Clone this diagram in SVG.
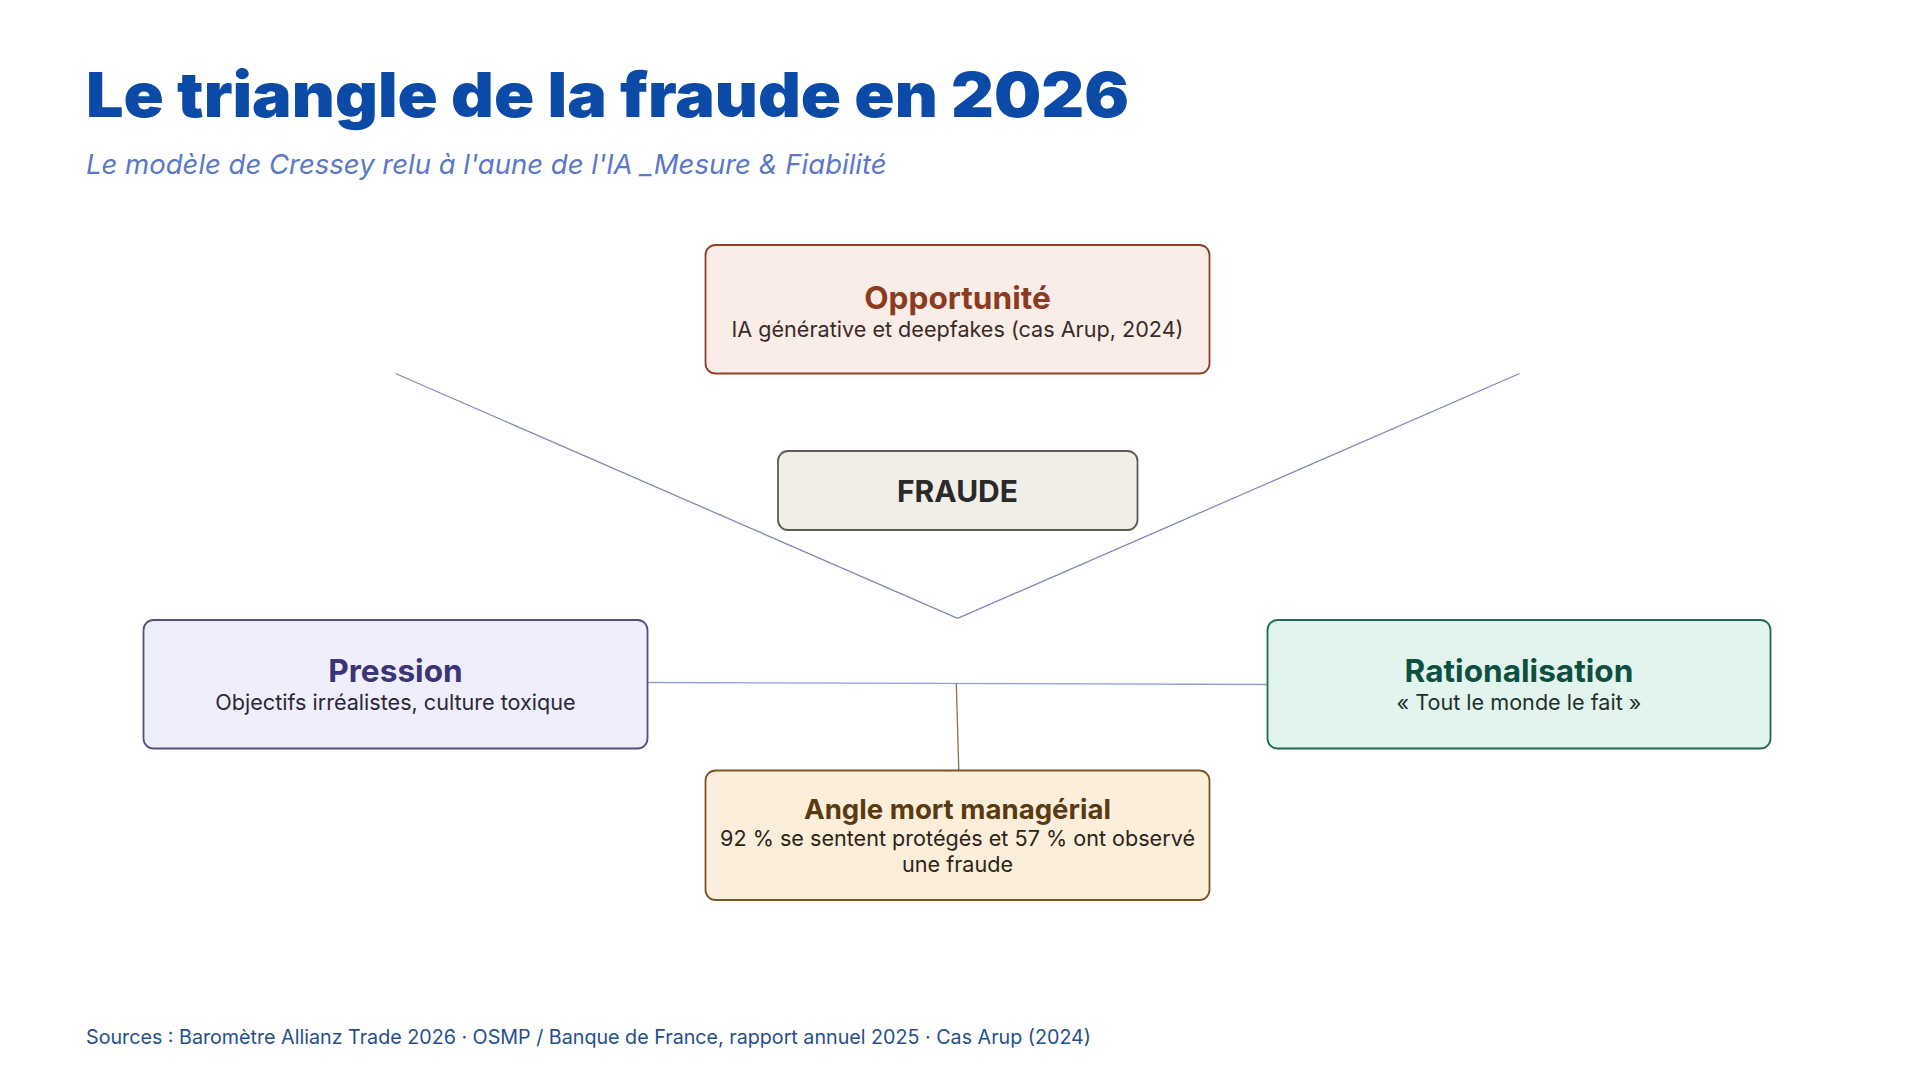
<svg xmlns="http://www.w3.org/2000/svg" width="1920" height="1080" viewBox="0 0 1920 1080">
<style>
.bg{fill:#ffffff}
.title{font-family:Inter,"Liberation Sans",sans-serif;font-weight:900;font-size:62px;fill:#0b4aa6}
.subtitle{font-family:Inter,"Liberation Sans",sans-serif;font-style:italic;font-size:27.5px;fill:#5a78c8}
.src{font-family:Inter,"Liberation Sans",sans-serif;font-size:19.7px;fill:#1f4f8c}
.box{stroke-width:1.8}
.nt{font-family:Inter,"Liberation Sans",sans-serif;font-weight:700;font-size:31.6px;text-anchor:middle}
.ns{font-family:Inter,"Liberation Sans",sans-serif;font-size:21.6px;text-anchor:middle}
.conn line{fill:none;stroke-width:1.3}
</style>
<rect class="bg" x="0" y="0" width="1920" height="1080"/>
<text class="title" x="86" y="117" textLength="1043" lengthAdjust="spacingAndGlyphs">Le triangle de la fraude en 2026</text>
<text class="subtitle" x="86" y="174">Le modèle de Cressey relu à l'aune de l'IA _Mesure &amp; Fiabilité</text>

<g id="connectors" class="conn">
<line x1="395.5" y1="373.5" x2="957.6" y2="618.4" stroke="#7d8db2"/>
<line x1="957.6" y1="618.4" x2="1519.6" y2="373.5" stroke="#7d8db2"/>
<line x1="647.8" y1="682.5" x2="1267.4" y2="684.5" stroke="#8ea2c8"/>
<line x1="956.3" y1="683.5" x2="958.8" y2="770.5" stroke="#8a7254"/>
</g>

<g id="node-opportunite">
<rect class="box" x="705.5" y="245" width="504" height="128.5" rx="10" fill="#faece6" stroke="#8c4025"/>
<text class="nt" x="957.5" y="309" fill="#8b3b1f">Opportunité</text>
<text class="ns" x="957.5" y="337" fill="#3a2a26">IA générative et deepfakes (cas Arup, 2024)</text>
</g>

<g id="node-fraude">
<rect class="box" x="778" y="451" width="359.5" height="79" rx="10" fill="#f1eee8" stroke="#5e5b56"/>
<text class="nt" x="957.5" y="502" fill="#2a2a2a" style="font-size:30px">FRAUDE</text>
</g>

<g id="node-pression">
<rect class="box" x="143.5" y="620" width="504" height="128.5" rx="10" fill="#efeefc" stroke="#54507e"/>
<text class="nt" x="395.5" y="682" fill="#3b3479">Pression</text>
<text class="ns" x="395.5" y="710" fill="#2a2838">Objectifs irréalistes, culture toxique</text>
</g>

<g id="node-rationalisation">
<rect class="box" x="1267.5" y="620" width="503" height="128.5" rx="10" fill="#e1f4ed" stroke="#226b52"/>
<text class="nt" x="1519" y="682" fill="#0f4f3f">Rationalisation</text>
<text class="ns" x="1519" y="710" fill="#22302c">« Tout le monde le fait »</text>
</g>

<g id="node-angle-mort">
<rect class="box" x="705.5" y="770.5" width="504" height="129.5" rx="10" fill="#fbeedb" stroke="#7b5424"/>
<text class="nt" x="957.5" y="819" fill="#5a3a10" style="font-size:27.6px">Angle mort managérial</text>
<text class="ns" x="957.5" y="846" fill="#2e2416">92 % se sentent protégés et 57 % ont observé</text>
<text class="ns" x="957.5" y="872" fill="#2e2416">une fraude</text>
</g>

<text class="src" x="86" y="1044">Sources : Baromètre Allianz Trade 2026 · OSMP / Banque de France, rapport annuel 2025 · Cas Arup (2024)</text>
</svg>
